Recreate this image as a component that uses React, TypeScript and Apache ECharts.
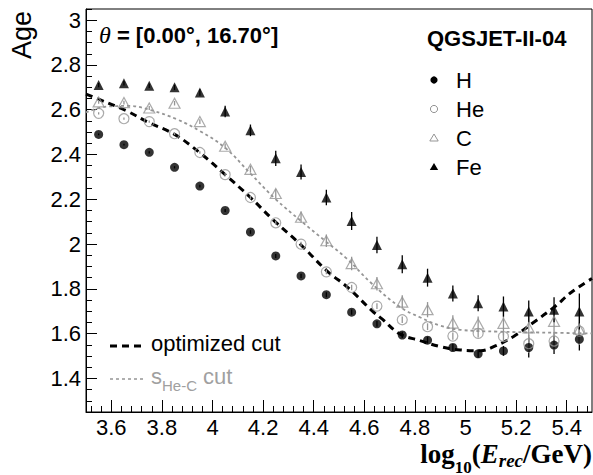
import React, { useEffect, useRef } from "react";
import * as echarts from "echarts";

// ---------------- data ----------------
const energyBins = [3.55, 3.65, 3.75, 3.85, 3.95, 4.05, 4.15, 4.25, 4.35, 4.45, 4.55, 4.65, 4.75, 4.85, 4.95, 5.05, 5.15, 5.25, 5.35, 5.45];

const ageH = [2.49, 2.444, 2.41, 2.343, 2.259, 2.15, 2.054, 1.947, 1.858, 1.774, 1.696, 1.644, 1.594, 1.571, 1.538, 1.51, 1.523, 1.538, 1.549, 1.575];
const errH = [0.004, 0.004, 0.005, 0.005, 0.006, 0.007, 0.008, 0.009, 0.01, 0.011, 0.012, 0.013, 0.014, 0.015, 0.016, 0.018, 0.022, 0.045, 0.04, 0.05];

const ageHe = [2.584, 2.56, 2.547, 2.493, 2.409, 2.31, 2.208, 2.095, 2.0, 1.876, 1.806, 1.723, 1.662, 1.631, 1.589, 1.601, 1.587, 1.555, 1.567, 1.611];
const errHe = [0.005, 0.005, 0.005, 0.006, 0.006, 0.007, 0.008, 0.009, 0.01, 0.011, 0.012, 0.013, 0.014, 0.015, 0.016, 0.018, 0.02, 0.04, 0.04, 0.04];

const ageC = [2.635, 2.632, 2.608, 2.629, 2.547, 2.437, 2.334, 2.226, 2.12, 2.015, 1.913, 1.823, 1.741, 1.707, 1.647, 1.643, 1.646, 1.626, 1.655, 1.62];
const errC = [0.008, 0.008, 0.009, 0.01, 0.011, 0.012, 0.015, 0.02, 0.025, 0.028, 0.03, 0.03, 0.03, 0.034, 0.035, 0.034, 0.054, 0.056, 0.064, 0.07];

const ageFe = [2.71, 2.718, 2.707, 2.70, 2.677, 2.592, 2.508, 2.383, 2.322, 2.208, 2.103, 1.996, 1.91, 1.85, 1.779, 1.736, 1.721, 1.699, 1.707, 1.699];
const errFe = [0.01, 0.01, 0.01, 0.012, 0.015, 0.026, 0.026, 0.034, 0.034, 0.035, 0.04, 0.037, 0.04, 0.04, 0.036, 0.036, 0.045, 0.049, 0.056, 0.08];

const optCutX = [3.5, 3.55, 3.66, 3.75, 3.85, 3.95, 4.05, 4.15, 4.24, 4.35, 4.45, 4.54, 4.63, 4.67, 4.74, 4.82, 4.9, 4.98, 5.06, 5.12, 5.19, 5.27, 5.35, 5.42, 5.5];
const optCutY = [2.67, 2.647, 2.595, 2.542, 2.49, 2.408, 2.31, 2.208, 2.108, 1.996, 1.883, 1.801, 1.703, 1.666, 1.599, 1.569, 1.542, 1.527, 1.524, 1.546, 1.587, 1.651, 1.718, 1.786, 1.846];

const sCutX = [3.5, 3.58, 3.67, 3.76, 3.86, 3.95, 4.05, 4.15, 4.25, 4.35, 4.45, 4.53, 4.63, 4.74, 4.82, 4.9, 4.98, 5.13, 5.3, 5.5];
const sCutY = [2.588, 2.614, 2.617, 2.597, 2.557, 2.505, 2.43, 2.315, 2.2, 2.103, 2.01, 1.936, 1.823, 1.72, 1.673, 1.636, 1.617, 1.609, 1.605, 1.601];

const xMajorTicks = [3.6, 3.8, 4, 4.2, 4.4, 4.6, 4.8, 5, 5.2, 5.4];
const yMajorTicks = [1.4, 1.6, 1.8, 2, 2.2, 2.4, 2.6, 2.8, 3];

const X_MIN = 3.5, X_MAX = 5.5, Y_MIN = 1.25, Y_MAX = 3.05;

// ---------------- helpers ----------------
const xMinorTicks: number[] = [];
for (let k = 88; k <= 137; k++) xMinorTicks.push(Math.round(k * 4) / 100);
const yMinorTicks: number[] = [];
for (let k = 25; k <= 61; k++) yMinorTicks.push(Math.round(k * 5) / 100);

const GRAY = "#959595";
const SANS = "'Liberation Sans', Arial, sans-serif";
const SERIF = "'Liberation Serif', 'Times New Roman', serif";

let measureCtx: CanvasRenderingContext2D | null = null;
function textWidth(text: string, font: string) {
  if (!measureCtx) measureCtx = document.createElement("canvas").getContext("2d");
  measureCtx!.font = font;
  return measureCtx!.measureText(text).width;
}

type Piece = { text: string; font: string; dy?: number; fill?: string };
function runText(pieces: Piece[], x0: number, y: number, align: "left" | "right", fill: string) {
  const widths = pieces.map((p) => textWidth(p.text, p.font));
  const total = widths.reduce((a, b) => a + b, 0);
  let x = align === "left" ? x0 : x0 - total;
  return pieces.map((p, i) => {
    const el = {
      type: "text",
      x,
      y: y + (p.dy || 0),
      z: 100,
      style: {
        text: p.text,
        font: p.font,
        fill: p.fill || fill,
        align: "left",
        verticalAlign: "middle",
        textAlign: "left",
        textVerticalAlign: "middle",
      },
    };
    x += widths[i];
    return el;
  });
}

function errorSeries(ys: number[], es: number[], color: string) {
  return {
    type: "custom",
    silent: true,
    z: 3,
    data: energyBins.map((x, i) => [x, ys[i] - es[i], ys[i] + es[i]]),
    encode: { x: 0, y: [1, 2] },
    renderItem: (_p: any, api: any) => {
      const x = api.value(0);
      const lo = api.coord([x, api.value(1)]);
      const hi = api.coord([x, api.value(2)]);
      return {
        type: "line",
        shape: { x1: lo[0], y1: lo[1], x2: hi[0], y2: hi[1] },
        style: { stroke: color, lineWidth: 1.3 },
      };
    },
  };
}

function pointSeries(name: string, ys: number[], symbol: string, size: any, style: any) {
  return {
    name,
    type: "scatter",
    symbol,
    symbolSize: size,
    z: 4,
    data: energyBins.map((x, i) => [x, ys[i]]),
    itemStyle: style,
  };
}

const fmt = (v: number) => String(parseFloat(Number(v).toFixed(2)));

export default function App() {
  const ref = useRef<HTMLDivElement>(null);

  useEffect(() => {
    document.body.style.margin = "0";
    if (!ref.current) return;
    const chart = echarts.init(ref.current, null, { renderer: "svg" });

    const graphics: any[] = [];
    // theta label
    graphics.push(
      ...runText(
        [
          { text: "θ", font: `italic 24px ${SERIF}` },
          { text: " = [0.00°, 16.70°]", font: `bold 22px ${SANS}` },
        ],
        99,
        35,
        "left",
        "#000"
      )
    );
    // model label
    graphics.push(...runText([{ text: "QGSJET-II-04", font: `bold 22px ${SANS}` }], 427, 38, "left", "#000"));
    // legend markers
    const lx = 434;
    const rows = [80, 109, 138, 167];
    graphics.push({ type: "circle", z: 100, shape: { cx: lx, cy: rows[0], r: 3.6 }, style: { fill: "#000" } });
    graphics.push({ type: "circle", z: 100, shape: { cx: lx, cy: rows[1], r: 3.6 }, style: { fill: "none", stroke: GRAY, lineWidth: 1 } });
    graphics.push({
      type: "polygon",
      z: 100,
      shape: { points: [[lx, rows[2] - 4], [lx + 4.2, rows[2] + 3], [lx - 4.2, rows[2] + 3]] },
      style: { fill: "none", stroke: GRAY, lineWidth: 1 },
    });
    graphics.push({
      type: "polygon",
      z: 100,
      shape: { points: [[lx, rows[3] - 4], [lx + 4.2, rows[3] + 3], [lx - 4.2, rows[3] + 3]] },
      style: { fill: "#000" },
    });
    const names = ["H", "He", "C", "Fe"];
    names.forEach((n, i) => graphics.push(...runText([{ text: n, font: `22px ${SANS}` }], 456, rows[i], "left", "#000")));

    // lower-left legend
    graphics.push({
      type: "line",
      z: 100,
      shape: { x1: 110, y1: 346, x2: 144, y2: 346 },
      style: { stroke: "#000", lineWidth: 3, lineDash: [7, 5] },
    });
    graphics.push(...runText([{ text: "optimized cut", font: `22px ${SANS}` }], 151, 343, "left", "#000"));
    graphics.push({
      type: "line",
      z: 100,
      shape: { x1: 110, y1: 379, x2: 143, y2: 379 },
      style: { stroke: GRAY, lineWidth: 1.6, lineDash: [3, 3] },
    });
    graphics.push(
      ...runText(
        [
          { text: "s", font: `22px ${SANS}` },
          { text: "He-C", font: `15px ${SANS}`, dy: 9 },
          { text: " cut", font: `22px ${SANS}` },
        ],
        151,
        376,
        "left",
        "#a0a0a0"
      )
    );

    // y title
    graphics.push({
      type: "text",
      x: 22,
      y: 35,
      rotation: Math.PI / 2,
      z: 100,
      style: {
        text: "Age",
        font: `27px ${SANS}`,
        fill: "#000",
        align: "center",
        verticalAlign: "middle",
        textAlign: "center",
        textVerticalAlign: "middle",
      },
    });

    // x title
    graphics.push(
      ...runText(
        [
          { text: "log", font: `bold 27px ${SERIF}` },
          { text: "10", font: `bold 17px ${SERIF}`, dy: 13 },
          { text: "(", font: `bold 27px ${SERIF}` },
          { text: "E", font: `italic bold 27px ${SERIF}` },
          { text: "rec", font: `italic bold 19px ${SERIF}`, dy: 6 },
          { text: "/GeV)", font: `bold 27px ${SERIF}` },
        ],
        592,
        454,
        "right",
        "#000"
      )
    );

    const axisLabelStyle = { fontSize: 22, fontFamily: SANS, color: "#000" };

    chart.setOption({
      animation: false,
      backgroundColor: "#fff",
      grid: {
        left: 86,
        right: 1,
        top: 9,
        bottom: 63,
        show: true,
        borderColor: "#000",
        borderWidth: 1,
        backgroundColor: "transparent",
        containLabel: false,
        outerBoundsMode: "none",
      },
      xAxis: [
        {
          type: "value",
          min: X_MIN,
          max: X_MAX,
          position: "bottom",
          axisLine: { show: true, lineStyle: { color: "#000", width: 1 } },
          axisTick: { show: true, inside: true, length: 12, customValues: xMajorTicks, lineStyle: { color: "#000", width: 1 } },
          axisLabel: { show: true, customValues: xMajorTicks, margin: 4, formatter: fmt, ...axisLabelStyle },
          splitLine: { show: false },
          minorTick: { show: false },
        },
        {
          type: "value",
          min: X_MIN,
          max: X_MAX,
          position: "bottom",
          axisLine: { show: false },
          axisTick: { show: true, inside: true, length: 6, customValues: xMinorTicks, lineStyle: { color: "#000", width: 1 } },
          axisLabel: { show: false },
          splitLine: { show: false },
        },
      ],
      yAxis: [
        {
          type: "value",
          min: Y_MIN,
          max: Y_MAX,
          position: "left",
          axisLine: { show: true, lineStyle: { color: "#000", width: 1 } },
          axisTick: { show: true, inside: true, length: 11, customValues: yMajorTicks, lineStyle: { color: "#000", width: 1 } },
          axisLabel: { show: true, customValues: yMajorTicks, margin: 5, formatter: fmt, ...axisLabelStyle },
          splitLine: { show: false },
        },
        {
          type: "value",
          min: Y_MIN,
          max: Y_MAX,
          position: "left",
          axisLine: { show: false },
          axisTick: { show: true, inside: true, length: 6, customValues: yMinorTicks, lineStyle: { color: "#000", width: 1 } },
          axisLabel: { show: false },
          splitLine: { show: false },
        },
      ],
      series: [
        {
          name: "s He-C cut",
          type: "line",
          smooth: 0.4,
          showSymbol: false,
          silent: true,
          z: 1,
          data: sCutX.map((x, i) => [x, sCutY[i]]),
          lineStyle: { color: GRAY, width: 1.8, type: [3, 3] },
        },
        {
          name: "optimized cut",
          type: "line",
          smooth: 0.4,
          showSymbol: false,
          silent: true,
          z: 2,
          data: optCutX.map((x, i) => [x, optCutY[i]]),
          lineStyle: { color: "#000", width: 3, type: [7, 5] },
        },
        errorSeries(ageH, errH, "#000"),
        errorSeries(ageHe, errHe, GRAY),
        errorSeries(ageC, errC, GRAY),
        errorSeries(ageFe, errFe, "#000"),
        pointSeries("H", ageH, "circle", 9, { color: "#000" }),
        pointSeries("He", ageHe, "circle", 10, { color: "rgba(255,255,255,0)", borderColor: GRAY, borderWidth: 1.2 }),
        pointSeries("C", ageC, "triangle", [11, 10], { color: "rgba(255,255,255,0)", borderColor: GRAY, borderWidth: 1.2 }),
        pointSeries("Fe", ageFe, "triangle", [10, 10], { color: "#000" }),
      ],
      graphic: graphics,
    });

    return () => chart.dispose();
  }, []);

  return <div ref={ref} style={{ width: 593, height: 475 }} />;
}
